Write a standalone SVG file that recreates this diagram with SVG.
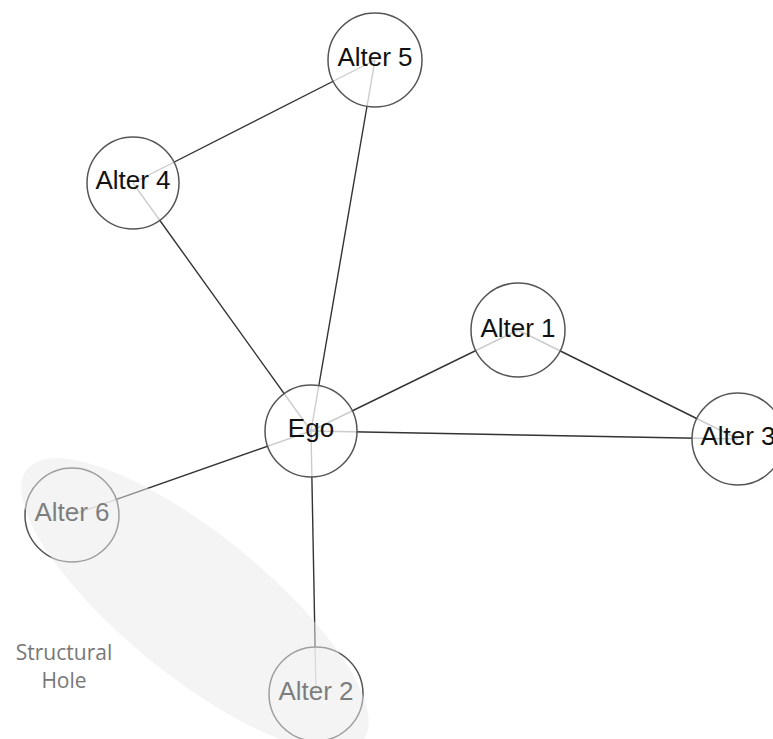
<svg xmlns="http://www.w3.org/2000/svg" width="773" height="739" viewBox="0 0 773 739">
<style>
.edge{stroke:#333;stroke-width:1.4;fill:none}
.node circle{fill:#fff;fill-opacity:0.75;stroke:#555;stroke-width:1.5}
.node text{font-family:"Liberation Sans",Arial,sans-serif;font-size:26px;fill:#111;text-anchor:middle}
.hole{fill:#e7e9e7;fill-opacity:0.5}
.lbl{font-family:"Open Sans","Noto Sans",sans-serif;font-size:21px;fill:#777;text-anchor:middle}
</style>
<rect width="773" height="739" fill="#fff"/>
<g id="connectors">
<line class="edge" x1="133" y1="183" x2="375" y2="60"/>
<line class="edge" x1="311" y1="431" x2="375" y2="60"/>
<line class="edge" x1="311" y1="431" x2="133" y2="183"/>
<line class="edge" x1="311" y1="431" x2="518" y2="330"/>
<line class="edge" x1="518" y1="330" x2="738" y2="439"/>
<line class="edge" x1="311" y1="431" x2="738" y2="439"/>
<line class="edge" x1="311" y1="431" x2="72" y2="515"/>
<line class="edge" x1="311" y1="431" x2="316" y2="694"/>
</g>
<g id="ego" class="node"><circle cx="311" cy="431" r="46"/><text x="311" y="437">Ego</text></g>
<g id="alter1" class="node"><circle cx="518" cy="330" r="47"/><text x="518" y="337">Alter 1</text></g>
<g id="alter2" class="node"><circle cx="316" cy="694" r="47"/><text x="316" y="700">Alter 2</text></g>
<g id="alter3" class="node"><circle cx="738" cy="439" r="46"/><text x="738" y="445">Alter 3</text></g>
<g id="alter4" class="node"><circle cx="133" cy="183" r="46"/><text x="133" y="189">Alter 4</text></g>
<g id="alter5" class="node"><circle cx="375" cy="60" r="47"/><text x="375" y="66">Alter 5</text></g>
<g id="alter6" class="node"><circle cx="72" cy="515" r="47"/><text x="72" y="521">Alter 6</text></g>
<g id="structural-hole">
<ellipse class="hole" cx="195" cy="605" rx="216" ry="71" transform="rotate(39 195 605)"/>
<text class="lbl" x="64" y="660">Structural</text>
<text class="lbl" x="64" y="688">Hole</text>
</g>
</svg>
